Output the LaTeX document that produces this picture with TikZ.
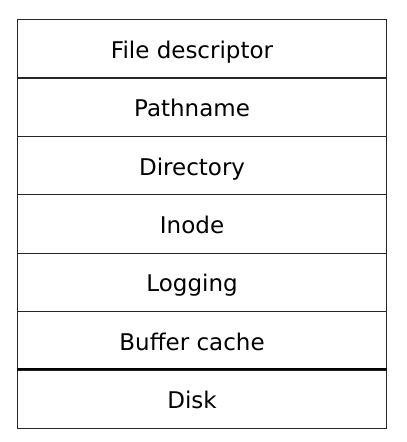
\documentclass[tikz,border=0pt]{standalone}
\usepackage{fontspec}
\setmainfont{DejaVu Sans}
\begin{document}
\begin{tikzpicture}[x=1pt,y=-1pt,
  layer/.style={draw=black!85,line width=1.1pt,minimum width=369pt,minimum height=58.4pt,
    inner sep=0pt,anchor=north west},
  lbl/.style={inner sep=0pt,text height=20pt,text depth=1pt,xshift=-10pt,
    font=\fontsize{23}{27}\selectfont}]
\useasboundingbox (0,0) rectangle (407,442);
\node[layer,label={[lbl]center:File descriptor}] (fd)  at (17,19)    {};
\node[layer,label={[lbl]center:Pathname}]        (pn)  at (17,77.4)  {};
\node[layer,label={[lbl]center:Directory}]       (dir) at (17,135.8) {};
\node[layer,label={[lbl]center:Inode}]           (ino) at (17,194.2) {};
\node[layer,label={[lbl]center:Logging}]         (log) at (17,252.6) {};
\node[layer,label={[lbl]center:Buffer cache}]    (bc)  at (17,311)   {};
\node[layer,label={[lbl]center:Disk}]            (dsk) at (17,369.4) {};
\draw[line width=2pt] (dsk.north west) -- (dsk.north east);
\end{tikzpicture}
\end{document}
